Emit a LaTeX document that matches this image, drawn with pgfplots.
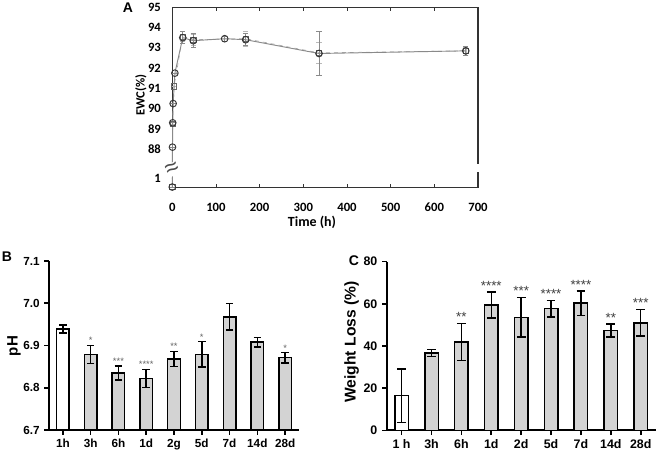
\documentclass[border=0pt]{standalone}
\usepackage{fontspec}
\setmainfont{Liberation Sans}
\newfontfamily\calib{Carlito}
\usepackage{pgfplots}
\pgfplotsset{compat=1.18}
\definecolor{barfill}{HTML}{D3D3D3}
\definecolor{lgray}{HTML}{8A8A8A}

\pgfplotstableread{
x y e
0 86.13 0
0.5 88.1 0
1 89.3 0
2 90.25 0
6 91.75 0
24 93.5 0.3
48 93.35 0.35
120 93.45 0.12
168 93.4 0.3
336 92.72 1.1
672 92.85 0.2
}\ewcA
\pgfplotstableread{
x y e
0 86.13 0
1 89.25 0
4 91.1 0
24 93.55 0.25
48 93.4 0.25
168 93.45 0.35
336 92.75 0.5
672 92.85 0.2
}\ewcB

\pgfplotstableread{
x y e
0 6.939 0.009
}\phW
\pgfplotstableread{
x y e
1 6.879 0.021
2 6.835 0.017
3 6.822 0.021
4 6.868 0.018
5 6.879 0.030
6 6.968 0.031
7 6.908 0.011
8 6.871 0.012
}\phG
\pgfplotstableread{
x y s
1 6.900 *
2 6.852 ***
3 6.843 ****
4 6.886 **
5 6.909 *
8 6.883 *
}\phS

\pgfplotstableread{
x y e
0 16.4 12.6
}\wlW
\pgfplotstableread{
x y e
1 36.7 1.7
2 41.9 8.8
3 59.5 6.2
4 53.6 9.4
5 57.7 4.0
6 60.3 5.8
7 47.4 3.1
8 51.0 6.3
}\wlG
\pgfplotstableread{
x y s
2 50.7 **
3 65.7 ****
4 63.0 ***
5 61.7 ****
6 66.1 ****
7 50.5 **
8 57.3 ***
}\wlS

\begin{document}
\begin{tikzpicture}[x=0.75pt,y=0.75pt]
\useasboundingbox (0,0) rectangle (656,457);

% ---------------- Panel A ----------------
\begin{axis}[at={(129.2pt,202.0pt)}, anchor=south west, scale only axis,
  width=229.3pt, height=135.3pt,
  xmin=0, xmax=700, ymin=86.1, ymax=95,
  xtick={0,100,...,700},
  ytick={86.55,88,89,90,91,92,93,94,95},
  yticklabels={1,88,89,90,91,92,93,94,95},
  tick align=inside, major tick length=3pt,
  ytick style={draw=none},
  xtick style={black!80, line width=0.6pt},
  axis line style={black!80, line width=0.8pt},
  ticklabel style={font=\calib\bfseries\fontsize{9.5}{10}\selectfont},
  /pgf/number format/assume math mode=true,
  xticklabel style={yshift=-8pt},
  yticklabel style={xshift=-5pt},
  clip=false]
\addplot[lgray!70, dashed, line width=0.5pt, mark=square, mark size=2pt,
  mark options={solid, black!60, line width=0.5pt},
  error bars/.cd, y dir=both, y explicit,
  error bar style={lgray!60, line width=0.4pt},
  error mark options={rotate=90, lgray!60, mark size=2pt, line width=0.4pt}]
  table[x=x, y=y, y error=e]{\ewcB};
\addplot[lgray, line width=0.7pt, mark=o, mark size=2.5pt,
  mark options={black!80, line width=0.7pt},
  error bars/.cd, y dir=both, y explicit,
  error bar style={lgray, line width=0.5pt},
  error mark options={rotate=90, lgray, mark size=2pt, line width=0.5pt}]
  table[x=x, y=y, y error=e]{\ewcA};
\draw[white, line width=3pt] (axis cs:700,86.85) -- (axis cs:700,87.25);
\node[fill=white, inner sep=0.3pt, rotate=25, font=\fontsize{18}{18}\selectfont, text=black!70] at (axis cs:0,87.0) {≈};
\end{axis}
\node[font=\calib\bfseries\fontsize{10.5}{12}\selectfont] at (312,235) {Time (h)};
\node[rotate=90, font=\calib\bfseries\fontsize{9.5}{11}\selectfont] at (141,362) {EWC(\%)};
\node[font=\bfseries\fontsize{10.5}{12}\selectfont] at (128,449) {A};

% ---------------- Panel B ----------------
\begin{axis}[at={(36.75pt,20.25pt)}, anchor=south west, scale only axis,
  width=187.5pt, height=126.75pt,
  xmin=-0.5, xmax=8.5, ymin=6.7, ymax=7.1,
  axis x line=bottom, axis y line=left,
  axis line style={-, black, line width=1.4pt},
  xtick={0,...,8},
  xticklabels={1h,3h,6h,1d,2g,5d,7d,14d,28d},
  ytick={6.7,6.8,6.9,7.0,7.1},
  yticklabels={6.7,6.8,6.9,7.0,7.1},
  tick align=outside, major tick length=3.5pt,
  tick style={black, line width=1.2pt},
  ticklabel style={font=\bfseries\fontsize{8.8}{10}\selectfont},
  /pgf/number format/assume math mode=true,
  clip=false]
\addplot[ybar, bar width=9.4pt, bar shift=0pt, fill=white, draw=black, line width=1.1pt,
  error bars/.cd, y dir=both, y explicit,
  error bar style={black, line width=1.1pt},
  error mark options={rotate=90, black, mark size=2.8pt, line width=1.1pt}]
  table[x=x, y=y, y error=e]{\phW};
\addplot[ybar, bar width=9.4pt, bar shift=0pt, fill=barfill, draw=black, line width=1.1pt,
  error bars/.cd, y dir=both, y explicit,
  error bar style={black, line width=1.1pt},
  error mark options={rotate=90, black, mark size=2.8pt, line width=1.1pt}]
  table[x=x, y=y, y error=e]{\phG};
\addplot[draw=none, mark=none, nodes near coords, point meta=explicit symbolic,
  nodes near coords style={anchor=south, inner sep=0pt, yshift=1pt, text=black!60,
  font=\fontsize{7}{7}\selectfont}]
  table[x=x, y=y, meta=s]{\phS};
\end{axis}
\node[rotate=90, font=\bfseries\fontsize{11.3}{12}\selectfont] at (14,111) {pH};
\node[font=\bfseries\fontsize{10.5}{12}\selectfont] at (7,200) {B};

% ---------------- Panel C ----------------
\begin{axis}[at={(290.0pt,20.0pt)}, anchor=south west, scale only axis,
  width=201.75pt, height=126.5pt,
  xmin=-0.5, xmax=8.5, ymin=0, ymax=80,
  axis x line=bottom, axis y line=left,
  axis line style={-, black, line width=1.4pt},
  xtick={0,...,8},
  xticklabels={1 h,3h,6h,1d,2d,5d,7d,14d,28d},
  ytick={0,20,40,60,80},
  tick align=outside, major tick length=3.5pt,
  tick style={black, line width=1.2pt},
  ticklabel style={font=\bfseries\fontsize{9.3}{10}\selectfont},
  /pgf/number format/assume math mode=true,
  clip=false]
\addplot[ybar, bar width=10.1pt, bar shift=0pt, fill=white, draw=black, line width=1.1pt,
  error bars/.cd, y dir=both, y explicit,
  error bar style={black, line width=1.1pt},
  error mark options={rotate=90, black, mark size=3.3pt, line width=1.1pt}]
  table[x=x, y=y, y error=e]{\wlW};
\addplot[ybar, bar width=10.1pt, bar shift=0pt, fill=barfill, draw=black, line width=1.1pt,
  error bars/.cd, y dir=both, y explicit,
  error bar style={black, line width=1.1pt},
  error mark options={rotate=90, black, mark size=3.3pt, line width=1.1pt}]
  table[x=x, y=y, y error=e]{\wlG};
\addplot[draw=none, mark=none, nodes near coords, point meta=explicit symbolic,
  nodes near coords style={anchor=south, inner sep=0pt, yshift=1pt, text=black!75,
  font=\fontsize{10}{10}\selectfont},
  ]
  table[x=x, y=y, meta=s]{\wlS};
\end{axis}
\node[rotate=90, font=\bfseries\fontsize{11.7}{12}\selectfont] at (351.7,115) {Weight Loss (\%)};
\node[font=\bfseries\fontsize{10.5}{12}\selectfont] at (354,196) {C};
\end{tikzpicture}
\end{document}
